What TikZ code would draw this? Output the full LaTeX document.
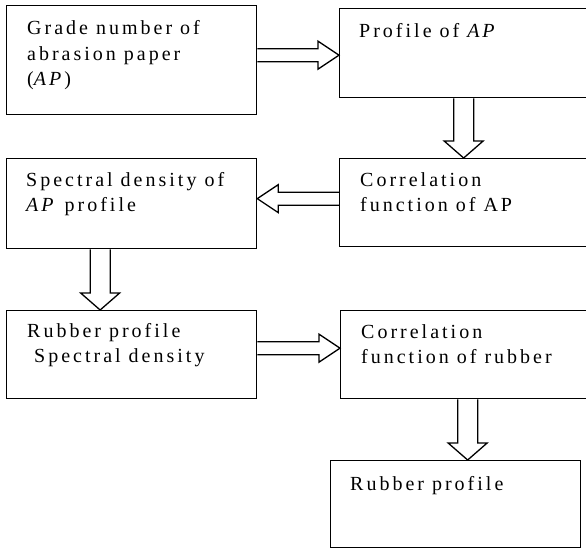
\documentclass[tikz,border=0pt]{standalone}
\usepackage{fontspec}
\setmainfont{Liberation Serif}[LetterSpace=15]
\usetikzlibrary{calc}
\tikzset{
  box/.style={draw, line width=1.3pt, rectangle, anchor=north west, inner sep=0pt},
  txt/.style={anchor=north west, align=left, inner sep=0pt, font=\fontsize{20}{25.5}\selectfont},
  blk/.style={draw, line width=1.3pt, line join=miter, fill=none},
}
\newcommand\mkbox[5]{\node[box, minimum width=#4pt, minimum height=#5pt] (#1) at (#2,#3) {};}
\newcommand\harr[2]{\draw[blk] let \p1=(#1), \p2=(#2), \n1={sign(\x2-\x1)} in
  (\x1,{\y1+6.5pt}) -- ({\x2-(\n1)*21pt},{\y1+6.5pt}) -- ({\x2-(\n1)*21pt},{\y1+14pt}) -- (\x2,\y1)
  -- ({\x2-(\n1)*21pt},{\y1-14pt}) -- ({\x2-(\n1)*21pt},{\y1-6.5pt}) -- (\x1,{\y1-6.5pt});}
\newcommand\varr[2]{\draw[blk] let \p1=(#1), \p2=(#2), \n1={sign(\y2-\y1)} in
  ({\x1+10pt},\y1) -- ({\x1+10pt},{\y2-(\n1)*17pt}) -- ({\x1+19.5pt},{\y2-(\n1)*17pt}) -- (\x1,\y2)
  -- ({\x1-19.5pt},{\y2-(\n1)*17pt}) -- ({\x1-10pt},{\y2-(\n1)*17pt}) -- ({\x1-10pt},\y1);}
\begin{document}
\begin{tikzpicture}[x=1pt,y=-1pt]
\useasboundingbox (0,0) rectangle (586,549);
\clip (0,0) rectangle (586,549);
\fill[white] (0,0) rectangle (586,549);
% boxes
\mkbox{b1}{6}{5}{250}{109}
\mkbox{b2}{339}{8}{270}{89}
\mkbox{b3}{339}{158}{270}{88}
\mkbox{b4}{6}{158}{250}{90}
\mkbox{b5}{6}{310}{250}{88}
\mkbox{b6}{340}{310}{270}{88}
\mkbox{b7}{330}{460}{250}{87}
% texts
\node[txt] (t1) at (27,20.3) {Grade number of\\abrasion paper\\(\textit{AP})};
\node[txt] (t2) at (359,23.3) {Profile of \textit{AP}};
\node[txt] (t3) at (360,172) {Correlation\\function of AP};
\node[txt] (t4) at (26,172) {Spectral density of\\\textit{AP} profile};
\node[txt] (t5) at (27,323) {Rubber profile\\\hspace*{7pt}Spectral density};
\node[txt] (t6) at (361,324) {Correlation\\function of rubber};
\node[txt] (t7) at (350,476) {Rubber profile};
% block arrows
\harr{[yshift=5pt]b1.east}{b2.west}
\varr{[xshift=-11pt]b2.south}{b3.north}
\harr{[yshift=4pt]b3.west}{b4.east}
\varr{[xshift=-31.5pt]b4.south}{b5.north}
\harr{[yshift=6.5pt]b5.east}{b6.west}
\varr{[xshift=-8pt]b6.south}{b7.north}
\end{tikzpicture}
\end{document}
